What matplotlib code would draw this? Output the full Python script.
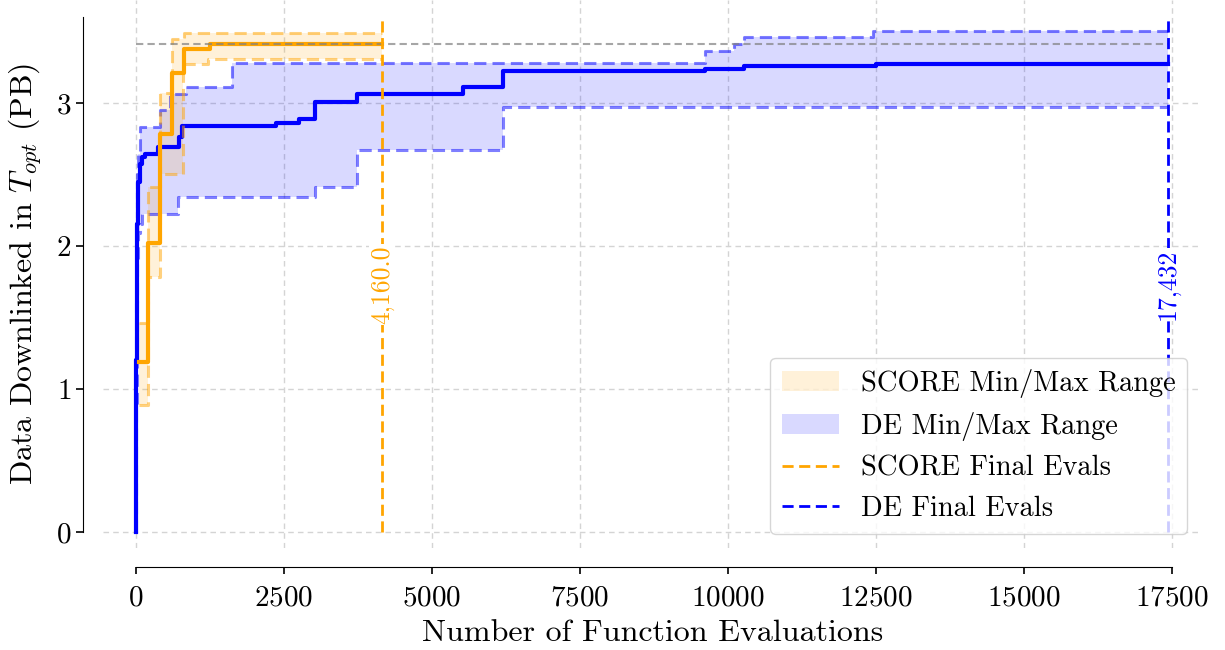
import numpy as np
import matplotlib
matplotlib.use('Agg')
import matplotlib.pyplot as plt
from matplotlib.patches import Patch
from matplotlib.lines import Line2D

plt.rcParams['font.family'] = 'serif'
plt.rcParams['font.serif'] = ['cmr10']
plt.rcParams['mathtext.fontset'] = 'cm'
plt.rcParams['axes.formatter.use_mathtext'] = True

# SCORE runs: best value found so far vs evaluations (mean, min, max over runs)
score_evals = [45, 203, 405, 608, 795, 811, 1215, 1250, 4160]
score_mean = [1.19, 2.02, 2.78, 3.21, 3.21, 3.38, 3.38, 3.41, 3.41]
score_max = [1.46, 2.41, 3.07, 3.45, 3.45, 3.49, 3.49, 3.49, 3.49]
score_min = [0.89, 1.78, 2.50, 2.50, 3.27, 3.27, 3.31, 3.31, 3.31]

# DE runs
de_evals = [0, 10, 20, 40, 70, 110, 150, 375, 405, 575, 715, 730, 780, 845,
            1620, 2360, 2750, 3030, 3740, 5524, 6199, 9611, 10100, 10270,
            10320, 12450, 12500, 17432]
de_mean = [0, 1.20, 2.15, 2.45, 2.57, 2.62, 2.64, 2.69, 2.69, 2.69, 2.69, 2.76,
           2.84, 2.84, 2.84, 2.86, 2.89, 3.01, 3.06, 3.11, 3.22, 3.24, 3.24,
           3.26, 3.26, 3.26, 3.27, 3.27]
de_max = [0, 1.60, 2.50, 2.64, 2.83, 2.83, 2.83, 2.83, 2.95, 3.06, 3.06, 3.06,
          3.06, 3.11, 3.28, 3.28, 3.28, 3.28, 3.28, 3.28, 3.28, 3.36, 3.41,
          3.46, 3.46, 3.50, 3.50, 3.50]
de_min = [0, 0.90, 1.90, 2.09, 2.15, 2.22, 2.22, 2.22, 2.22, 2.22, 2.34, 2.34,
          2.34, 2.34, 2.34, 2.34, 2.34, 2.41, 2.67, 2.67, 2.97, 2.97, 2.97,
          2.97, 2.97, 2.97, 2.97, 2.97]

score_final = 4160
de_final = 17432

dash = (0, (4, 2))

fig = plt.figure(figsize=(12.25, 6.5), dpi=100)
ax = fig.add_axes([0.084, 0.157, 0.897, 0.843])

# DE first so SCORE sits on top
ax.fill_between(de_evals, de_min, de_max, step='post', color='blue', alpha=0.15, lw=0)
ax.step(de_evals, de_min, where='post', color='blue', alpha=0.5, lw=2.2, ls=dash)
ax.step(de_evals, de_max, where='post', color='blue', alpha=0.5, lw=2.2, ls=dash)
ax.step(de_evals, de_mean, where='post', color='blue', lw=3)

ax.fill_between(score_evals, score_min, score_max, step='post', color='orange', alpha=0.15, lw=0)
ax.step(score_evals, score_min, where='post', color='orange', alpha=0.5, lw=2.2, ls=dash)
ax.step(score_evals, score_max, where='post', color='orange', alpha=0.5, lw=2.2, ls=dash)
ax.step(score_evals, score_mean, where='post', color='orange', lw=3)

# best SCORE mean carried across
ax.hlines(score_mean[-1], 0, de_final, color='gray', alpha=0.7, lw=1.5, ls=(0, (3.5, 2)))

ax.vlines(score_final, 0, 3.6, color='orange', lw=2, ls=dash)
ax.vlines(de_final, 0, 3.6, color='blue', lw=2, ls=dash)
ax.text(score_final, 1.73, '{:,.1f}'.format(score_final), color='orange', rotation=90,
        ha='center', va='center', fontsize=18.5,
        bbox=dict(facecolor='white', edgecolor='none', pad=1))
ax.text(de_final, 1.73, '{:,}'.format(de_final), color='blue', rotation=90,
        ha='center', va='center', fontsize=18.5,
        bbox=dict(facecolor='white', edgecolor='none', pad=1))

ax.set_xlim(-557, 18010)
ax.set_ylim(-0.112, 3.72)
ax.set_xticks([0, 2500, 5000, 7500, 10000, 12500, 15000, 17500])
ax.set_yticks([0, 1, 2, 3])
ax.grid(True, color='#d4d4d4', ls=(0, (4, 3)), lw=1)
ax.set_axisbelow(True)

for s in ['top', 'right']:
    ax.spines[s].set_visible(False)
ax.spines['left'].set_position(('outward', 14.5))
ax.spines['bottom'].set_position(('outward', 14))
ax.spines['left'].set_bounds(0, 3.6)
ax.spines['bottom'].set_bounds(0, 17500)
ax.tick_params(labelsize=21, length=5, width=1.2)
ax.tick_params(axis='x', pad=7.5)

ax.set_xlabel('Number of Function Evaluations', fontsize=23, labelpad=6)
ax.set_ylabel('Data Downlinked in $T_{opt}$ (PB)', fontsize=23, labelpad=8)

handles = [Patch(facecolor='orange', alpha=0.15, label='SCORE Min/Max Range'),
           Patch(facecolor='blue', alpha=0.15, label='DE Min/Max Range'),
           Line2D([], [], color='orange', lw=2, ls=dash, label='SCORE Final Evals'),
           Line2D([], [], color='blue', lw=2, ls=dash, label='DE Final Evals')]
ax.legend(handles=handles, loc='lower right', fontsize=20.5, borderaxespad=0.5)

fig.savefig('out.png', dpi=100)
